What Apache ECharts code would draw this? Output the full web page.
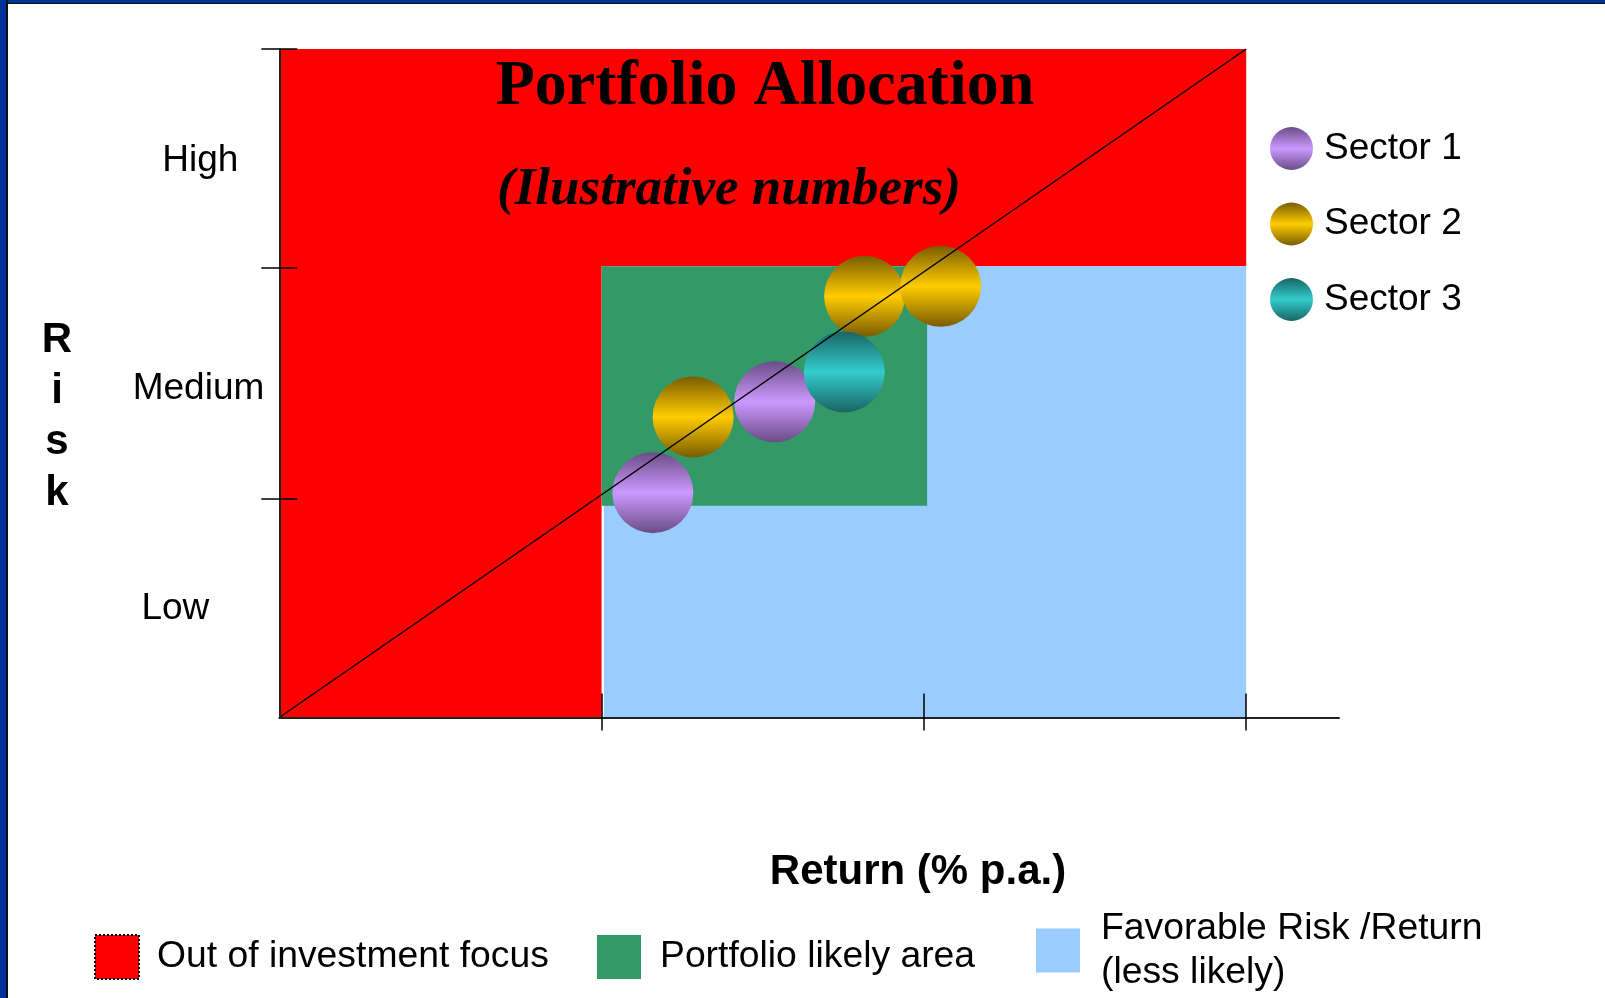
<!DOCTYPE html>
<html>
<head>
<meta charset="utf-8">
<title>Portfolio Allocation</title>
<script src="https://cdn.jsdelivr.net/npm/echarts@6/dist/echarts.min.js"></script>
<style>
  html, body { margin: 0; padding: 0; background: #fff; }
  #main { position: absolute; left: 0; top: 0; width: 1605px; height: 998px; }
  /* slide frame */
  .frame-top { position: absolute; left: 0; top: 0; width: 1605px; height: 3px; background: #003399; border-bottom: 1.5px solid #111; }
  .frame-left { position: absolute; left: 0; top: 0; width: 6px; height: 998px; background: #003399; border-right: 2px solid #111; }
</style>
</head>
<body>
<div id="main"></div>
<div class="frame-top"></div>
<div class="frame-left"></div>
<script>
const riskLevels = ['Low', 'Medium', 'High']
const riskLabelAt = [0.487, 1.476, 2.497]
const riskTicks = [0.98, 2.02, 3]
const returnTicks = [1, 2, 3]

// zones: [returnFrom, returnTo, riskFrom, riskTo]
const outOfFocus = [[0, 1, 0, 3], [0, 3, 2.025, 3]]
const favorable = [[1.007, 3, 0, 2.025]]
const likely = [[1, 2.01, 0.95, 2.025]]

// [return, risk]
const sector1 = [[1.159, 1.009], [1.537, 1.417]]
const sector2 = [[1.284, 1.349], [1.816, 1.89], [2.052, 1.935]]
const sector3 = [[1.753, 1.551]]

const diagonal = [[0, 0], [3, 3]]

const FONT = 'Liberation Sans'
const SERIF = 'Liberation Serif'

const chart = echarts.init(document.getElementById('main'))

const ball = (dark, light) => new echarts.graphic.LinearGradient(0, 0, 0, 1, [
  { offset: 0, color: dark },
  { offset: 0.5, color: light },
  { offset: 1, color: dark }
])

function zoneSeries(name, color, data) {
  return {
    name,
    type: 'custom',
    z: 1,
    silent: true,
    itemStyle: { color },
    encode: { x: [0, 1], y: [2, 3] },
    renderItem: (params, api) => {
      const p0 = api.coord([api.value(0), api.value(3)])
      const p1 = api.coord([api.value(1), api.value(2)])
      return {
        type: 'rect',
        shape: { x: p0[0], y: p0[1], width: p1[0] - p0[0], height: p1[1] - p0[1] },
        style: { fill: api.visual('color') }
      }
    },
    data
  }
}

function sectorSeries(name, color, data) {
  return {
    name,
    type: 'scatter',
    z: 3,
    symbolSize: 81,
    itemStyle: { color, opacity: 1 },
    emphasis: { disabled: true },
    data
  }
}

const bottomLegend = (name, left, top, pad, extra) => ({
  data: [Object.assign({ name, icon: 'rect' }, extra || {})],
  orient: 'horizontal',
  left,
  top,
  padding: 0,
  itemWidth: 44,
  itemHeight: 44,
  selectedMode: false,
  textStyle: { fontFamily: FONT, fontSize: 37.3, color: '#000', lineHeight: 44, padding: pad }
})

const option = {
  animation: false,
  title: [
    {
      text: 'Portfolio Allocation', left: 765, top: 55, textAlign: 'center', padding: 0,
      textStyle: { fontFamily: SERIF, fontWeight: 'bold', fontSize: 64, color: '#000' }
    },
    {
      text: '(Ilustrative numbers)', left: 729, top: 164, textAlign: 'center', padding: 0,
      textStyle: { fontFamily: SERIF, fontWeight: 'bold', fontStyle: 'italic', fontSize: 53, color: '#000' }
    },
    {
      text: 'Return (% p.a.)', left: 918, top: 851, textAlign: 'center', padding: 0,
      textStyle: { fontFamily: FONT, fontWeight: 'bold', fontSize: 42, color: '#000' }
    },
    {
      text: 'R\ni\ns\nk', left: 57, top: 315, textAlign: 'center', padding: 0,
      textStyle: { fontFamily: FONT, fontWeight: 'bold', fontSize: 42, lineHeight: 51, color: '#000' }
    }
  ],
  legend: [
    {
      data: [{ name: 'Sector 1', icon: 'circle' }, { name: 'Sector 2', icon: 'circle' }, { name: 'Sector 3', icon: 'circle' }],
      orient: 'vertical',
      left: 1270,
      top: 127,
      padding: 0,
      itemGap: 32.5,
      itemWidth: 43,
      itemHeight: 43,
      selectedMode: false,
      textStyle: { fontFamily: FONT, fontSize: 37, color: '#000', lineHeight: 43, padding: [0, 0, 0, 6] }
    },
    bottomLegend('Out of investment focus', 94, 933, [4, 0, 0, 13], {
      itemStyle: { borderColor: '#000', borderWidth: 2, borderType: 'dotted' }
    }),
    bottomLegend('Portfolio likely area', 597, 933, [4, 0, 0, 14]),
    bottomLegend('Favorable Risk /Return\n(less likely)', 1036, 903, [7, 0, 0, 16])
  ],
  grid: {
    left: 279.3,
    top: 49,
    width: 1059.7,
    height: 668.5,
    containLabel: false,
    outerBoundsMode: 'none'
  },
  xAxis: [
    {
      type: 'value', position: 'bottom', min: 0, max: 3.288, z: 10,
      axisLine: { show: true, lineStyle: { color: '#222', width: 2 } },
      axisTick: { show: true, inside: false, length: 13, customValues: returnTicks, lineStyle: { color: '#000', width: 1.5 } },
      axisLabel: { show: false, customValues: returnTicks },
      splitLine: { show: false }
    },
    {
      type: 'value', position: 'bottom', min: 0, max: 3.288, z: 10,
      axisLine: { show: false },
      axisTick: { show: true, inside: true, length: 24, customValues: returnTicks, lineStyle: { color: '#000', width: 1.5 } },
      axisLabel: { show: false, customValues: returnTicks },
      splitLine: { show: false }
    }
  ],
  yAxis: [
    {
      type: 'value', position: 'left', min: 0, max: 3, z: 10,
      axisLine: { show: true, lineStyle: { color: '#222', width: 2 } },
      axisTick: { show: true, inside: false, length: 18, customValues: riskTicks, lineStyle: { color: '#000', width: 1.5 } },
      axisLabel: {
        show: true,
        customValues: riskLabelAt,
        margin: 15,
        fontFamily: FONT,
        fontSize: 37,
        color: '#000',
        formatter: (v) => {
          const i = riskLabelAt.indexOf(v)
          return '{r' + i + '|' + riskLevels[i] + '}'
        },
        rich: {
          r0: { fontFamily: FONT, fontSize: 37, color: '#000', padding: [0, 55, 0, 0] },
          r1: { fontFamily: FONT, fontSize: 37, color: '#000' },
          r2: { fontFamily: FONT, fontSize: 37, color: '#000', padding: [0, 26, 0, 0] }
        }
      },
      splitLine: { show: false }
    },
    {
      type: 'value', position: 'left', min: 0, max: 3, z: 10, offset: 0,
      axisLine: { show: false },
      axisTick: { show: true, inside: true, length: 18, customValues: riskTicks, lineStyle: { color: '#000', width: 1.5 } },
      axisLabel: { show: false, customValues: riskTicks },
      splitLine: { show: false }
    }
  ],
  series: [
    zoneSeries('Out of investment focus', '#ff0000', outOfFocus),
    zoneSeries('Favorable Risk /Return\n(less likely)', '#99ccff', favorable),
    zoneSeries('Portfolio likely area', '#339966', likely),
    sectorSeries('Sector 1', ball('#6a4c86', '#cc99ff'), sector1),
    sectorSeries('Sector 2', ball('#7a5c00', '#ffcc00'), sector2),
    sectorSeries('Sector 3', ball('#1a6464', '#33cccc'), sector3),
    {
      type: 'line',
      z: 5,
      silent: true,
      symbol: 'none',
      lineStyle: { color: '#000', width: 1.5 },
      data: diagonal
    }
  ]
}

chart.setOption(option)
window.addEventListener('resize', () => chart.resize())
</script>
</body>
</html>
